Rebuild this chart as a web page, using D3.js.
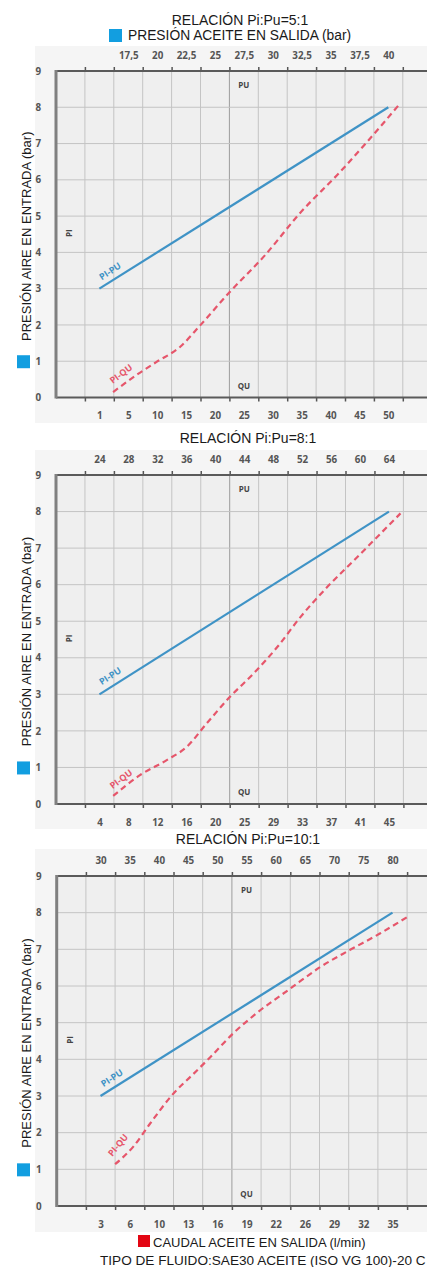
<!DOCTYPE html>
<html><head><meta charset="utf-8">
<script src="https://cdn.jsdelivr.net/npm/d3@7"></script>
<style>
body{margin:0;background:#fff}
svg{display:block}
.t{font-family:"Liberation Sans",Arial,sans-serif;fill:#1a1a1a}
.tk{font-family:"Open Sans",sans-serif;font-weight:700;font-size:9.8px;fill:#555}
</style>
</head><body><script>
// ---- data ----
const ratioTitles = ["RELACIÓN Pi:Pu=5:1", "RELACIÓN Pi:Pu=8:1", "RELACIÓN Pi:Pu=10:1"];
const topTicks1 = [17.5, 20, 22.5, 25, 27.5, 30, 32.5, 35, 37.5, 40];
const topTicks2 = [24, 28, 32, 36, 40, 44, 48, 52, 56, 60, 64];
const topTicks3 = [30, 35, 40, 45, 50, 55, 60, 65, 70, 75, 80];
const bottomTicks1 = [1, 5, 10, 15, 20, 25, 30, 35, 40, 45, 50];
const bottomTicks2 = [4, 8, 12, 16, 20, 25, 29, 33, 37, 41, 45];
const bottomTicks3 = [3, 6, 10, 13, 16, 19, 22, 26, 29, 32, 35];
const yTicks = [0, 1, 2, 3, 4, 5, 6, 7, 8, 9];
// PI-PU: [oil outlet pressure (bar), air inlet pressure (bar)]
const piPu1 = [[15, 3], [40, 8]];
const piPu2 = [[24, 3], [64, 8]];
const piPu3 = [[30, 3], [80, 8]];
// PI-QU: [oil flow (l/min), air inlet pressure (bar)]
const piQu1 = [[2.9,0.15],[6.7,0.65],[9.9,0.98],[14.0,1.4],[17.4,1.98],[22.4,2.88],[28.7,3.93],[34.7,5.08],[41.6,6.21],[46.3,7.04],[52,8.1]];
const piQu2 = [[5.9,0.22],[9.6,0.79],[13.3,1.2],[16.1,1.57],[18.8,2.2],[22.6,2.94],[26.3,3.57],[29.6,4.3],[32.8,5.12],[36.5,5.94],[40.2,6.67],[46.6,7.95]];
const piQu3 = [[4.5,1.14],[6.5,1.62],[8.8,2.25],[11.5,3.07],[13.5,3.59],[15.25,4.05],[17.6,4.7],[20.0,5.25],[24.0,5.93],[27.6,6.52],[30.6,6.98],[33.7,7.43],[36.5,7.88]];
const yTitle = "PRESIÓN AIRE EN ENTRADA (bar)";
const topLegend = "PRESIÓN ACEITE EN SALIDA (bar)";
const bottomLegend = "CAUDAL ACEITE EN SALIDA (l/min)";
const footNote = "TIPO DE FLUIDO:SAE30 ACEITE (ISO VG 100)-20 C";

const topTicks = [topTicks1, topTicks2, topTicks3];
const bottomTicks = [bottomTicks1, bottomTicks2, bottomTicks3];
const piPu = [piPu1, piPu2, piPu3];
const piQu = [piQu1, piQu2, piQu3];

// ---- layout ----
const W = 427, H = 1267;
const BLUE = "#3f93c6", RED = "#e6566b";
const layout = [
  {x0:56,   colW:28.9,  yTop:71,  yBot:397.5, bgTop:46,  bgBot:423, titleX:240, titleY:25,  topStart:2.5, puLab:[1.87,3.48,-33], quLab:[2.25,0.65,-37]},
  {x0:56,   colW:28.95, yTop:475, yBot:804,   bgTop:450, bgBot:829, titleX:248, titleY:443, topStart:1.5, puLab:[1.87,3.5,-33],  quLab:[2.25,0.68,-37]},
  {x0:56.7, colW:29.2,  yTop:876, yBot:1206,  bgTop:849, bgBot:1232,titleX:248, titleY:844, topStart:1.5, puLab:[1.89,3.49,-33], quLab:[2.1,1.66,-50]}
];
const NCOL = 14;
const fmt = d => String(d).replace(".", ",");

const svg = d3.select("body").append("svg").attr("width", W).attr("height", H);

layout.forEach((L, i) => {
  const g = svg.append("g");
  const col = d3.scaleLinear().domain([0, 1]).range([L.x0, L.x0 + L.colW]);
  const y = d3.scaleLinear().domain([0, 9]).range([L.yBot, L.yTop]);
  const tt = topTicks[i], bt = bottomTicks[i];
  const xTop = d3.scaleLinear().domain(tt).range(tt.map((d, k) => col(L.topStart + k)));
  const xBot = d3.scaleLinear().domain(bt).range(bt.map((d, k) => col(1.5 + k)));

  // backgrounds
  g.append("rect").attr("x", 35).attr("y", L.bgTop).attr("width", W - 35).attr("height", L.bgBot - L.bgTop).attr("fill", "#f5f5f5");
  g.append("rect").attr("x", L.x0).attr("y", L.yTop).attr("width", W - L.x0).attr("height", L.yBot - L.yTop).attr("fill", "#efefef");

  // grid
  const cols = d3.range(1, NCOL);
  g.append("g").selectAll("line").data(cols).join("line")
    .attr("x1", d => col(d)).attr("x2", d => col(d))
    .attr("y1", L.yTop).attr("y2", L.yBot)
    .attr("stroke", d => d === 6 ? "#9c9c9c" : "#c4c4c4").attr("stroke-width", 1);
  g.append("g").selectAll("line").data(yTicks.filter(d => d > 0 && d < 9)).join("line")
    .attr("x1", L.x0).attr("x2", W).attr("y1", d => y(d)).attr("y2", d => y(d))
    .attr("stroke", "#c4c4c4").attr("stroke-width", 1);

  // tick marks on top/bottom axes
  const styleTicks = a => { a.select(".domain").remove(); a.selectAll("line").attr("stroke", "#555").attr("stroke-width", 1.5); };
  g.append("g").attr("transform", `translate(0,${L.yTop})`)
    .call(d3.axisTop(col).tickValues(cols).tickSize(4).tickFormat("")).call(styleTicks);
  g.append("g").attr("transform", `translate(0,${L.yBot})`)
    .call(d3.axisBottom(col).tickValues(cols).tickSize(4).tickFormat("")).call(styleTicks);

  // axis lines
  g.append("line").attr("x1", L.x0).attr("x2", W).attr("y1", L.yTop).attr("y2", L.yTop).attr("stroke", "#5a5a5a").attr("stroke-width", 2);
  g.append("line").attr("x1", L.x0).attr("x2", W).attr("y1", L.yBot).attr("y2", L.yBot).attr("stroke", "#5a5a5a").attr("stroke-width", 2);
  g.append("line").attr("x1", L.x0).attr("x2", L.x0).attr("y1", L.yTop - 1).attr("y2", L.yBot + 1).attr("stroke", "#808080").attr("stroke-width", 3);

  // tick labels
  const styleLab = a => { a.select(".domain").remove(); a.selectAll("text").attr("class", "tk").attr("font-size", null).attr("font-family", null); };
  g.append("g").attr("transform", `translate(0,${L.yTop})`)
    .call(d3.axisTop(xTop).tickValues(tt).tickSize(0).tickPadding(12).tickFormat(fmt)).call(styleLab);
  g.append("g").attr("transform", `translate(0,${L.yBot})`)
    .call(d3.axisBottom(xBot).tickValues(bt).tickSize(0).tickPadding(15).tickFormat(fmt)).call(styleLab);
  g.append("g").attr("transform", `translate(${L.x0},0)`)
    .call(d3.axisLeft(y).tickValues(yTicks).tickSize(0).tickPadding(15)).call(styleLab);

  // PU / QU / PI markers
  g.append("text").attr("class", "tk").style("font-size", "8px").style("fill", "#444").attr("text-anchor", "middle")
    .attr("x", col(6.5)).attr("y", L.yTop + 17).text("PU");
  g.append("text").attr("class", "tk").style("font-size", "8px").style("fill", "#444").attr("text-anchor", "middle")
    .attr("x", col(6.5)).attr("y", L.yBot - 9).text("QU");
  g.append("text").attr("class", "tk").style("font-size", "8px").style("fill", "#444").attr("text-anchor", "middle")
    .attr("transform", `translate(${col(0.45)},${y(4.53)}) rotate(-90)`).attr("dy", "0.35em").text("PI");

  // lines
  const lineTop = d3.line().x(d => xTop(d[0])).y(d => y(d[1]));
  const lineBot = d3.line().x(d => xBot(d[0])).y(d => y(d[1])).curve(d3.curveMonotoneX);
  g.append("path").datum(piPu[i]).attr("d", lineTop).attr("fill", "none").attr("stroke", BLUE).attr("stroke-width", 2.2);
  g.append("path").datum(piQu[i]).attr("d", lineBot).attr("fill", "none").attr("stroke", RED)
    .attr("stroke-width", 2.2).attr("stroke-dasharray", "6,4");

  // line labels
  g.append("text").attr("class", "tk").style("font-size", "9px").style("fill", BLUE).attr("text-anchor", "middle")
    .attr("transform", `translate(${col(L.puLab[0])},${y(L.puLab[1])}) rotate(${L.puLab[2]})`).attr("dy", "0.35em").text("PI-PU");
  g.append("text").attr("class", "tk").style("font-size", "9px").style("fill", RED).attr("text-anchor", "middle")
    .attr("transform", `translate(${col(L.quLab[0])},${y(L.quLab[1])}) rotate(${L.quLab[2]})`).attr("dy", "0.35em").text("PI-QU");

  // ratio title
  svg.append("text").attr("class", "t").attr("font-size", "14px").attr("text-anchor", "middle")
    .attr("x", L.titleX).attr("y", L.titleY).text(ratioTitles[i]);

  // y-axis title + legend square
  const yc = (L.yTop + L.yBot) / 2;
  svg.append("text").attr("class", "t").attr("font-size", "13px").attr("text-anchor", "middle")
    .attr("transform", `translate(31,${yc + 2}) rotate(-90)`).text(yTitle);
  svg.append("rect").attr("x", 17).attr("y", y(1) - 6).attr("width", 13).attr("height", 13).attr("fill", "#129ee0");
});

// top legend
svg.append("rect").attr("x", 109).attr("y", 29).attr("width", 13).attr("height", 13).attr("fill", "#129ee0");
svg.append("text").attr("class", "t").attr("font-size", "13.8px").attr("x", 128).attr("y", 40).text(topLegend);
// bottom legend
svg.append("rect").attr("x", 138).attr("y", 1235).attr("width", 12).attr("height", 12).attr("fill", "#e30613");
svg.append("text").attr("class", "t").attr("font-size", "13px").attr("x", 153).attr("y", 1247).text(bottomLegend);
svg.append("text").attr("class", "t").attr("font-size", "13.6px").attr("x", 100).attr("y", 1265).text(footNote);
</script></body></html>
